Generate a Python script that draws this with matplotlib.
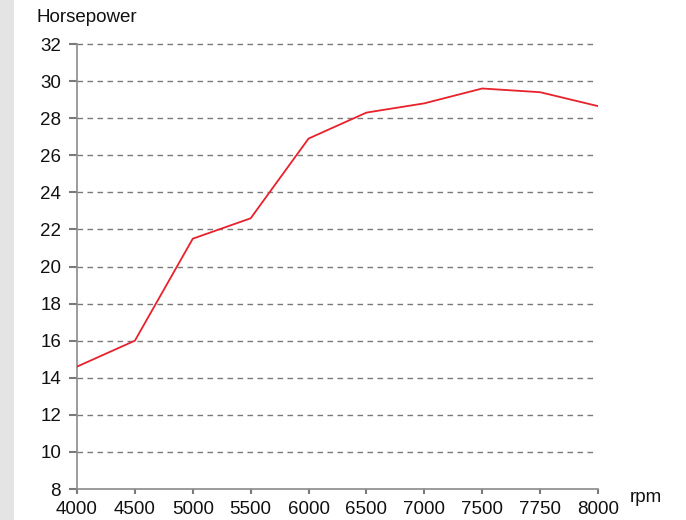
import matplotlib.pyplot as plt
from matplotlib.patches import Rectangle

plt.rcParams["font.family"] = ["Liberation Sans", "DejaVu Sans"]

rpm_labels = ["4000", "4500", "5000", "5500", "6000", "6500", "7000", "7500", "7750", "8000"]
horsepower = [14.6, 16.0, 21.5, 22.6, 26.9, 28.3, 28.8, 29.6, 29.4, 28.65]
y_ticks = list(range(8, 33, 2))

fig = plt.figure(figsize=(6.86, 5.2), dpi=100)
fig.patches.append(Rectangle((0, 0), 14 / 686, 1, transform=fig.transFigure,
                             facecolor="#e4e4e4", edgecolor="none", zorder=0))

ax = fig.add_axes([77 / 686, 31 / 520, 521 / 686, 445 / 520])
x = range(len(rpm_labels))
ax.plot(x, horsepower, color="#e8212b", linewidth=1.3, zorder=3)

ax.set_xlim(0, len(rpm_labels) - 1)
ax.set_ylim(8, 32)
ax.set_xticks(list(x))
ax.set_xticklabels(rpm_labels)
ax.set_yticks(y_ticks)

for yv in y_ticks[1:]:
    ax.axhline(yv, xmin=0, xmax=0.993, color="#7a7a7a", linestyle=(0, (4, 3.2)),
               linewidth=1.0, zorder=1, clip_on=False)

for s in ["top", "right"]:
    ax.spines[s].set_visible(False)
for s in ["left", "bottom"]:
    ax.spines[s].set_color("#8a8a8a")
    ax.spines[s].set_linewidth(1.2)

ax.tick_params(axis="both", colors="#7a7a7a", labelcolor="#111111", labelsize=13.5,
               width=1.5, direction="out")
ax.tick_params(axis="y", length=5.5, pad=6)
ax.tick_params(axis="x", length=3.8, pad=5)

fig.text(37 / 686, 1 - 18 / 520, "Horsepower", fontsize=13.5, va="center", ha="left",
         color="#111111")
fig.text(630 / 686, 1 - 497 / 520, "rpm", fontsize=13.5, va="center", ha="left",
         color="#111111")

fig.savefig("out.png", dpi=100)
